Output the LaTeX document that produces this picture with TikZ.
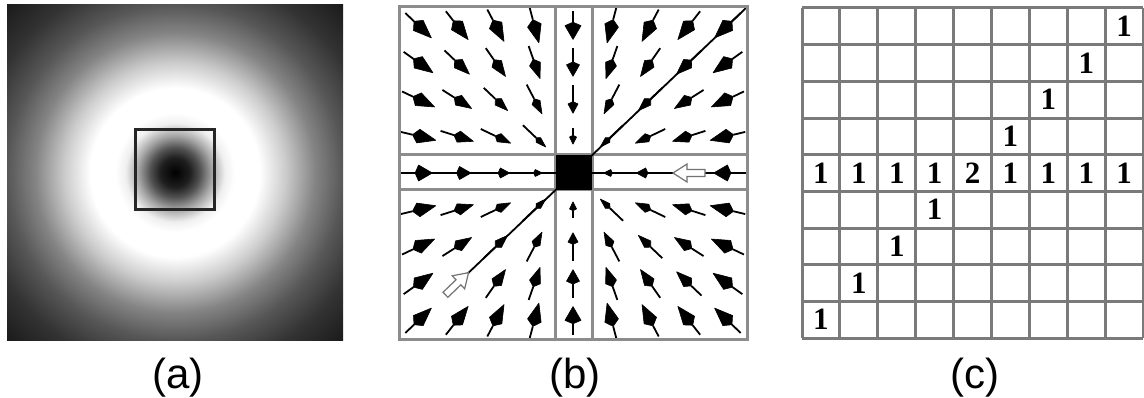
\documentclass[tikz,border=0pt]{standalone}
\usepackage{fontspec}
\setmainfont{Liberation Serif}
\setsansfont{Liberation Sans}
\pgfdeclareradialshading{halo}{\pgfpointorigin}{color(0bp)=(black); color(2.2bp)=(black!88); color(3.7bp)=(black!68); color(5.5bp)=(black!35); color(7.4bp)=(black!6); color(8.9bp)=(white); color(12.6bp)=(white); color(16.4bp)=(black!20); color(20.8bp)=(black!48); color(25bp)=(black!66); color(29.8bp)=(black!80); color(35.7bp)=(black!90); color(50bp)=(black!90)}
\tikzset{
  gridline/.style={line width=3pt, black!45},
  cgridline/.style={line width=3pt, black!52},
  shaft/.style={line width=1.8pt, black},
  headfill/.style={fill=black, draw=black, line width=0.6pt, line join=round},
  hollow/.style={draw=black!55, line width=1.2pt, fill=white, line join=miter},
  numtext/.style={font=\bfseries\fontsize{31}{31}\selectfont, inner sep=0pt},
  captext/.style={font=\sffamily\fontsize{42}{42}\selectfont, inner sep=0pt, anchor=base}
}
\begin{document}
\begin{tikzpicture}[x=1pt,y=-1pt]
\useasboundingbox (0,0) rectangle (1144,398);
\fill[white] (0,0) rectangle (1144,398);
% ---------- panel (a)
\shade[shading=halo] (7,5) rectangle (343,340);
\draw[line width=3pt, black!85] (135,130) rectangle (214,210);
% ---------- panel (b)
\def\bx{399}\def\by{7}\def\cw{38.667}\def\ch{36.889}
\draw[gridline] (555,7) -- (555,339);
\draw[gridline] (592,7) -- (592,339);
\draw[gridline] (399,155) -- (747,155);
\draw[gridline] (399,190) -- (747,190);
\coordinate (ctr) at (574,172.5);
\coordinate (hb) at (457,283.7);
\coordinate (ha) at (689,173);
\coordinate (tr) at (746,8);
\draw[shaft] (399,173) -- (747,173);
\draw[shaft] (ctr) -- (tr);
\draw[shaft] (ctr) -- (hb);
\foreach \i in {0,...,8}{
 \foreach \j in {0,...,8}{
  \pgfmathtruncatemacro\kk{max(abs(\i-4),abs(\j-4))}
  \pgfmathtruncatemacro\myskip{(\kk==0)||((\i==7)&&(\j==4))||((\i==1)&&(\j==7))}
  \ifnum\myskip=0
   \pgfmathtruncatemacro\onaxis{(\i==4)||(\j==4)}
   \pgfmathsetmacro\vx{(4-\i)*\cw}
   \pgfmathsetmacro\vy{(4-\j)*\ch}
   \pgfmathsetmacro\vn{veclen(\vx,\vy)}
   \pgfmathsetmacro\ux{(\vx)/(\vn)}
   \pgfmathsetmacro\uy{(\vy)/(\vn)}
   \ifnum\onaxis=1
     \pgfmathsetmacro\alen{\kk==1 ? 16 : 28}
     \pgfmathsetmacro\hw{4+3*\kk}
     \pgfmathsetmacro\hl{6+2.8*\kk}
     \pgfmathsetmacro\wpos{0.8}
   \else
     \pgfmathsetmacro\alen{30+1.5*\kk}
     \pgfmathsetmacro\hw{4+2.5*\kk}
     \pgfmathsetmacro\hl{10+3.5*\kk}
     \pgfmathsetmacro\wpos{0.75}
   \fi
   \pgfmathsetmacro\cx{\bx+(\i+0.5)*\cw}
   \pgfmathsetmacro\cy{\by+(\j+0.5)*\ch}
   \pgfmathsetmacro\tx{\cx-(\ux)*\alen/2}
   \pgfmathsetmacro\ty{\cy-(\uy)*\alen/2}
   \pgfmathsetmacro\px{\cx+(\ux)*\alen/2}
   \pgfmathsetmacro\py{\cy+(\uy)*\alen/2}
   \pgfmathsetmacro\qx{\px-(\ux)*\hl}
   \pgfmathsetmacro\qy{\py-(\uy)*\hl}
   \pgfmathsetmacro\mx{\px-(\ux)*\wpos*\hl}
   \pgfmathsetmacro\my{\py-(\uy)*\wpos*\hl}
   \pgfmathsetmacro\ox{-(\uy)*\hw/2}
   \pgfmathsetmacro\oy{(\ux)*\hw/2}
   \coordinate (t\i\j) at (\tx,\ty);
   \coordinate (p\i\j) at (\px,\py);
   \coordinate (b\i\j) at (\qx,\qy);
   \coordinate (l\i\j) at ({\mx+(\ox)},{\my+(\oy)});
   \coordinate (r\i\j) at ({\mx-(\ox)},{\my-(\oy)});
   \draw[shaft] (t\i\j) -- (b\i\j);
   \filldraw[headfill] (p\i\j) -- (l\i\j) -- (b\i\j) -- (r\i\j) -- cycle;
  \fi
 }}
\begin{scope}[shift={(ha)}, rotate=180]
  \draw[hollow] (16,0) -- (2,-9) -- (2,-3.5) -- (-16,-3.5) -- (-16,3.5) -- (2,3.5) -- (2,9) -- cycle;
\end{scope}
\begin{scope}[shift={(hb)}, rotate=43.7]
  \draw[hollow] (16,0) -- (2,-9) -- (2,-3.5) -- (-16,-3.5) -- (-16,3.5) -- (2,3.5) -- (2,9) -- cycle;
\end{scope}
\fill[black] (556,155) rectangle (592,190);
\draw[gridline] (399,7) rectangle (747,339);
% ---------- panel (c)
\def\gx{802}\def\gy{8}\def\gw{37.9}\def\gh{36.67}
\foreach \t in {0,...,9}{
  \draw[cgridline] ({\gx+\t*\gw},\gy) -- ({\gx+\t*\gw},{\gy+9*\gh});
  \draw[cgridline] (\gx,{\gy+\t*\gh}) -- ({\gx+9*\gw},{\gy+\t*\gh});
}
\foreach \i/\j/\v in {8/0/1,7/1/1,6/2/1,5/3/1,0/4/1,1/4/1,2/4/1,3/4/1,4/4/2,5/4/1,6/4/1,7/4/1,8/4/1,3/5/1,2/6/1,1/7/1,0/8/1}{
  \node[numtext] (n\i\j) at ({\gx+(\i+0.5)*\gw},{\gy+(\j+0.5)*\gh}) {\v};
}
% ---------- captions
\node[captext] (capa) at (178,388) {(a)};
\node[captext] (capb) at (575,388) {(b)};
\node[captext] (capc) at (975,388) {(c)};
\end{tikzpicture}
\end{document}
